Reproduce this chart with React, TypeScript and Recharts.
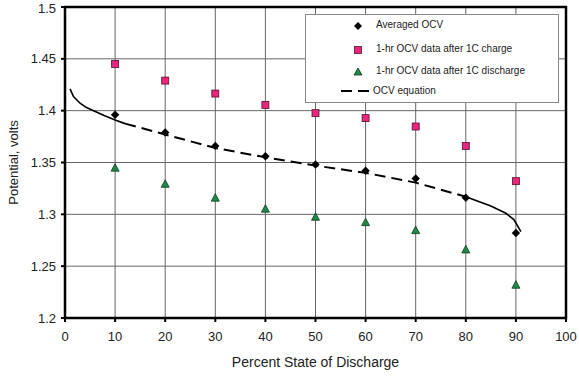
import React from 'react';
import { ComposedChart, Scatter, XAxis, YAxis, CartesianGrid, ReferenceArea } from 'recharts';

const percentDischarge = [10, 20, 30, 40, 50, 60, 70, 80, 90];
const averagedOCV = [1.396, 1.379, 1.366, 1.356, 1.348, 1.342, 1.3345, 1.316, 1.282];
const chargeOCV = [1.445, 1.429, 1.4165, 1.4056, 1.3976, 1.3928, 1.3847, 1.366, 1.332];
const dischargeOCV = [1.3445, 1.329, 1.3156, 1.305, 1.2972, 1.292, 1.2843, 1.2657, 1.2316];

const eqStartX = [1, 1.7, 3, 4.2, 5.7, 7.8, 10, 12];
const eqStartY = [1.421, 1.4136, 1.4072, 1.4032, 1.4, 1.3953, 1.391, 1.3875];
const eqMidX = [12, 20, 30, 40, 50, 60, 70, 80];
const eqMidY = [1.3875, 1.377, 1.364, 1.355, 1.347, 1.340, 1.3306, 1.317];
const eqEndX = [80, 85, 88, 89.6, 91];
const eqEndY = [1.317, 1.308, 1.301, 1.295, 1.2834];

const xTicks = [0, 10, 20, 30, 40, 50, 60, 70, 80, 90, 100];
const yTicks = [1.2, 1.25, 1.3, 1.35, 1.4, 1.45, 1.5];
const yTickLabels = ['1.2', '1.25', '1.3', '1.35', '1.4', '1.45', '1.5'];

const toPts = (xs: number[], ys: number[]) => xs.map((x, i) => ({ x, y: ys[i] }));

const FONT = '"Liberation Sans", Arial, sans-serif';

const Diamond = (p: any) => {
  const { cx, cy } = p;
  if (cx == null || cy == null) return null;
  const r = 4.2;
  return <polygon points={`${cx},${cy - r} ${cx + r},${cy} ${cx},${cy + r} ${cx - r},${cy}`} fill="#000" />;
};
const Square = (p: any) => {
  const { cx, cy } = p;
  if (cx == null || cy == null) return null;
  const s = 7;
  return <rect x={cx - s / 2} y={cy - s / 2} width={s} height={s} fill="#e8267c" stroke="#5a1030" strokeWidth={0.8} />;
};
const Triangle = (p: any) => {
  const { cx, cy } = p;
  if (cx == null || cy == null) return null;
  return <polygon points={`${cx},${cy - 4.5} ${cx + 4},${cy + 3} ${cx - 4},${cy + 3}`} fill="#1e8a48" stroke="#0b3a1e" strokeWidth={0.8} />;
};
const NoDot = () => null;

const LegendBox = () => (
  <div style={{ position: 'absolute', left: 305, top: 14, width: 252, height: 87, background: '#fff', border: '1px solid #888', fontFamily: FONT, fontSize: 10, color: '#222' }}>
    <svg width={252} height={87} style={{ position: 'absolute', left: 0, top: 0 }}>
      <polygon points="52,7 56,11 52,15 48,11" fill="#000" />
      <rect x={48.5} y={31.5} width={7} height={7} fill="#e8267c" stroke="#5a1030" strokeWidth={0.8} />
      <polygon points="52,53 56,60 48,60" fill="#1e8a48" stroke="#0b3a1e" strokeWidth={0.8} />
      <line x1={35} y1={76} x2={67} y2={76} stroke="#000" strokeWidth={2} strokeDasharray="11 6" />
    </svg>
    <div style={{ position: 'absolute', left: 70, top: 4 }}>Averaged OCV</div>
    <div style={{ position: 'absolute', left: 70, top: 28 }}>1-hr OCV data after 1C charge</div>
    <div style={{ position: 'absolute', left: 70, top: 50 }}>1-hr OCV data after 1C discharge</div>
    <div style={{ position: 'absolute', left: 67, top: 70 }}>OCV equation</div>
  </div>
);

export default function App() {
  return (
    <div style={{ position: 'absolute', left: 0, top: 0, width: 579, height: 379, background: '#fff' }}>
      <ComposedChart width={579} height={379} margin={{ top: 7, right: 13, left: 0, bottom: 0 }}>
        <CartesianGrid stroke="#666" strokeWidth={1} vertical horizontal />
        <XAxis
          type="number"
          dataKey="x"
          domain={[0, 100]}
          ticks={xTicks}
          allowDataOverflow
          height={61}
          tickSize={4}
          tickMargin={10}
          stroke="#000"
          strokeWidth={2}
          tick={{ fill: '#222', fontSize: 13, fontFamily: FONT }}
          label={{
            content: (props: any) => {
              const vb = props.viewBox || {};
              return (
                <text x={(vb.x || 65) + (vb.width || 501) / 2} y={367} textAnchor="middle" fill="#222" fontSize={14} fontFamily={FONT}>
                  Percent State of Discharge
                </text>
              );
            },
          }}
        />
        <YAxis
          type="number"
          dataKey="y"
          domain={[1.2, 1.5]}
          ticks={yTicks}
          allowDataOverflow
          width={65}
          tickSize={4}
          tickMargin={5}
          stroke="#000"
          strokeWidth={2}
          tickFormatter={(v: number) => yTickLabels[yTicks.indexOf(v)] ?? String(v)}
          tick={{ fill: '#222', fontSize: 13, fontFamily: FONT }}
          label={{
            content: (props: any) => {
              const vb = props.viewBox || {};
              const cy = (vb.y || 7) + (vb.height || 311) / 2;
              return (
                <text x={18} y={cy} transform={`rotate(-90 18 ${cy})`} textAnchor="middle" fill="#222" fontSize={13} fontFamily={FONT}>
                  Potential, volts
                </text>
              );
            },
          }}
        />
        <ReferenceArea x1={0} x2={100} y1={1.2} y2={1.5} fill="none" stroke="#000" strokeWidth={2.5} ifOverflow="visible" />
        <Scatter data={toPts(eqStartX, eqStartY)} line={{ stroke: '#000', strokeWidth: 1.6 }} lineType="joint" shape={NoDot} isAnimationActive={false} />
        <Scatter data={toPts(eqMidX, eqMidY)} line={{ stroke: '#000', strokeWidth: 2, strokeDasharray: '11 6' }} lineType="joint" shape={NoDot} isAnimationActive={false} />
        <Scatter data={toPts(eqEndX, eqEndY)} line={{ stroke: '#000', strokeWidth: 1.6 }} lineType="joint" shape={NoDot} isAnimationActive={false} />
        <Scatter data={toPts(percentDischarge, chargeOCV)} shape={Square} isAnimationActive={false} />
        <Scatter data={toPts(percentDischarge, dischargeOCV)} shape={Triangle} isAnimationActive={false} />
        <Scatter data={toPts(percentDischarge, averagedOCV)} shape={Diamond} isAnimationActive={false} />
      </ComposedChart>
      <LegendBox />
    </div>
  );
}
